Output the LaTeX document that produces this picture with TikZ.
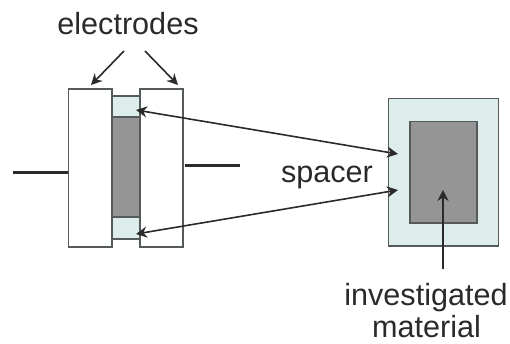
\documentclass[tikz,border=0pt]{standalone}
\usepackage{fontspec}
\setmainfont{Liberation Sans}
\usetikzlibrary{arrows.meta}
\definecolor{spacerfill}{HTML}{DCEDEC}
\definecolor{matfill}{HTML}{959595}
\definecolor{edgecol}{HTML}{555A5A}
\definecolor{inkcol}{HTML}{2A2A2A}
\tikzset{
  box/.style={draw=edgecol,line width=1.5pt,fill=white},
  spacerbox/.style={draw=edgecol,line width=1.4pt,fill=spacerfill},
  matbox/.style={draw=edgecol,line width=1.4pt,fill=matfill},
  lead/.style={draw=inkcol,line width=3pt},
  pointer/.style={draw=inkcol,line width=1.6pt,-{Stealth[length=11pt,width=11pt]}},
  twoway/.style={draw=inkcol,line width=1.6pt,{Stealth[length=11pt,width=11pt]}-{Stealth[length=11pt,width=11pt]}},
  label/.style={text=inkcol,font=\fontsize{30.6pt}{34pt}\selectfont,inner sep=0pt,anchor=base},
}
\begin{document}
\begin{tikzpicture}[x=1pt,y=-1pt]
\useasboundingbox (0,0) rectangle (510,344);
% side view
\path[spacerbox] (112,96) rectangle (140,117);
\path[spacerbox] (112,217) rectangle (140,239);
\path[matbox] (112,117) rectangle (140,217);
\path[box] (68.5,89) rectangle (112,247);
\path[box] (140,89) rectangle (183,247);
% front view
\path[spacerbox] (388.5,98.5) rectangle (498.5,246);
\path[matbox] (410,121.5) rectangle (477,223);
% leads
\coordinate (leadLa) at (13,173);
\coordinate (leadLb) at (68,173);
\coordinate (leadRa) at (185,166);
\coordinate (leadRb) at (240,166);
\draw[lead] (leadLa) -- (leadLb);
\draw[lead] (leadRa) -- (leadRb);
% labels
\node[label] (electrodes) at (128,35) {electrodes};
\node[label] (spacer) at (327,183) {spacer};
\node[label] (investigated) at (426,305) {investigated};
\node[label] (material) at (426.5,337) {material};
% arrow ends
\coordinate (eLa) at (124,51);
\coordinate (eLb) at (91,85);
\coordinate (eRa) at (145,51);
\coordinate (eRb) at (178,85);
\coordinate (sTa) at (136,110);
\coordinate (sTb) at (398,154);
\coordinate (sBa) at (136,234);
\coordinate (sBb) at (398,190);
\coordinate (mA) at (443,269);
\coordinate (mB) at (443,190);
\draw[pointer] (eLa) -- (eLb);
\draw[pointer] (eRa) -- (eRb);
\draw[twoway] (sTa) -- (sTb);
\draw[twoway] (sBa) -- (sBb);
\draw[pointer] (mA) -- (mB);
\end{tikzpicture}
\end{document}
